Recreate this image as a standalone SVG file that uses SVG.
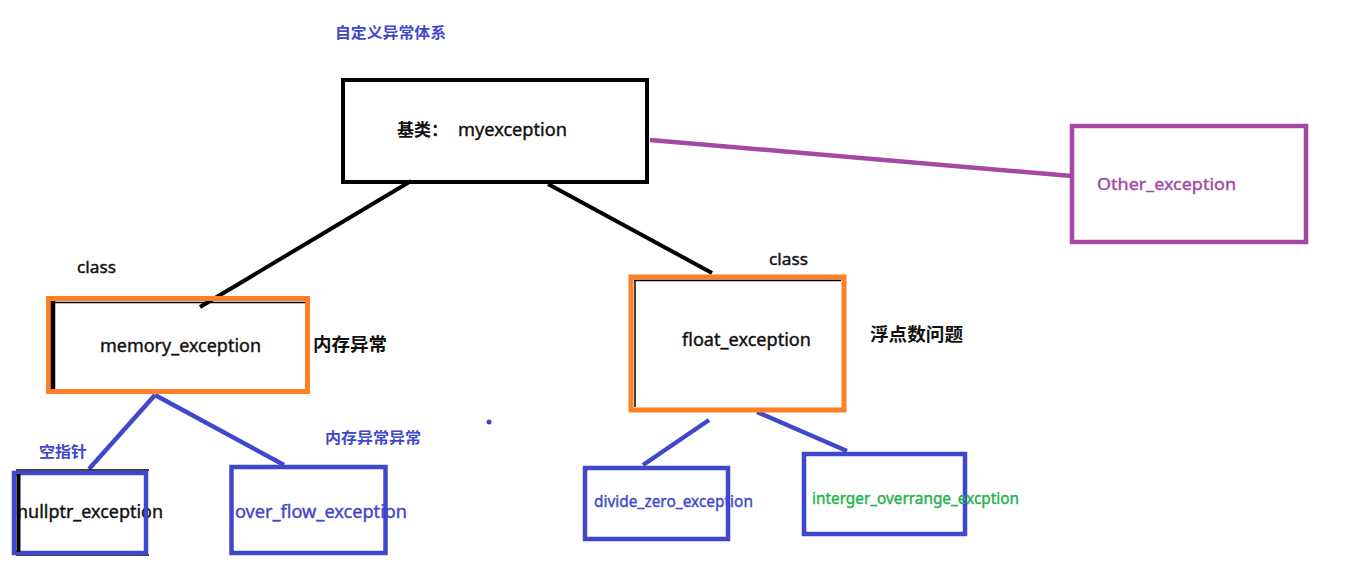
<svg xmlns="http://www.w3.org/2000/svg" width="1369" height="568" viewBox="0 0 1369 568">
<style>
  text { font-family: "Noto Sans", "Noto Sans CJK SC", sans-serif; }
  .cn { font-family: "Noto Sans CJK SC", sans-serif; font-weight: bold; }
  .lat { stroke-width: 0.4; }
  .lbl { font-size: 18px; fill: #111; stroke: #111; }
  .blue { fill: #3F48CC; }
  .box { fill: none; }
  .k { stroke: #000; stroke-width: 4; }
  .or { stroke: #FF7F27; stroke-width: 5; }
  .bl { stroke: #3F48CC; stroke-width: 4.5; }
  .pu { stroke: #A349A4; stroke-width: 4.5; }
  .ln { fill: none; stroke-linecap: butt; }
</style>
<rect width="1369" height="568" fill="#fff"/>

<text class="cn blue" x="335" y="38" font-size="15" textLength="111" lengthAdjust="spacingAndGlyphs">自定义异常体系</text>

<g id="connectors">
  <line class="ln k" x1="411" y1="181" x2="200" y2="307"/>
  <line class="ln k" x1="548" y1="184" x2="712" y2="273"/>
  <line class="ln pu" x1="650" y1="140" x2="1072" y2="176"/>
  <line class="ln bl" x1="155" y1="395" x2="89" y2="469"/>
  <line class="ln bl" x1="155" y1="395" x2="284" y2="465"/>
  <line class="ln bl" x1="709" y1="420" x2="643" y2="465"/>
  <line class="ln bl" x1="757" y1="412" x2="847" y2="451"/>
</g>

<g id="myexception">
  <rect class="box k" x="343" y="80" width="304" height="102"/>
  <text class="cn" x="397" y="136" font-size="17" fill="#111">基类：</text>
  <text class="lbl lat" x="458" y="136" textLength="109" lengthAdjust="spacingAndGlyphs">myexception</text>
</g>

<g id="other_exception">
  <rect class="box pu" x="1072" y="126" width="234" height="116"/>
  <text class="lat" x="1097" y="190" font-size="17" fill="#A349A4" stroke="#A349A4" textLength="139" lengthAdjust="spacingAndGlyphs">Other_exception</text>
</g>

<g id="memory_exception">
  <rect class="box or" x="48.5" y="298.5" width="259" height="93"/>
  <line x1="53" y1="301" x2="53" y2="389" stroke="#000" stroke-width="4.5"/>
  <line x1="55" y1="302.5" x2="305" y2="302.5" stroke="#000" stroke-width="1.5"/>
  <text class="lbl lat" x="100" y="352" textLength="161" lengthAdjust="spacingAndGlyphs">memory_exception</text>
  <text class="lat" x="77" y="273" font-size="16" fill="#111" stroke="#111" textLength="39" lengthAdjust="spacingAndGlyphs">class</text>
  <text class="cn" x="313" y="351" font-size="18" fill="#111" textLength="74" lengthAdjust="spacingAndGlyphs">内存异常</text>
</g>

<g id="float_exception">
  <rect class="box or" x="631" y="277" width="213" height="133" stroke-width="6"/>
  <line x1="635" y1="280" x2="635" y2="407" stroke="#000" stroke-width="1.5"/>
  <line x1="634" y1="280.5" x2="841" y2="280.5" stroke="#000" stroke-width="1.5"/>
  <text class="lbl lat" x="682" y="346" textLength="129" lengthAdjust="spacingAndGlyphs">float_exception</text>
  <text class="lat" x="769" y="265" font-size="16" fill="#111" stroke="#111" textLength="39" lengthAdjust="spacingAndGlyphs">class</text>
  <text class="cn" x="870" y="341" font-size="18" fill="#111" textLength="93" lengthAdjust="spacingAndGlyphs">浮点数问题</text>
</g>

<g id="nullptr_exception">
  <line x1="16" y1="470" x2="149" y2="470" stroke="#000" stroke-width="1.5"/>
  <line x1="16" y1="555" x2="149" y2="555" stroke="#000" stroke-width="1.5"/>
  <text class="lbl lat" x="17" y="518" textLength="146" lengthAdjust="spacingAndGlyphs">nullptr_exception</text>
  <rect class="box bl" x="14" y="473" width="132" height="80"/>
  <line x1="18.5" y1="474" x2="18.5" y2="552" stroke="#000" stroke-width="4"/>
  <text class="cn blue" x="39" y="457" font-size="15" textLength="48" lengthAdjust="spacingAndGlyphs">空指针</text>
</g>

<g id="over_flow_exception">
  <rect class="box bl" x="231.5" y="467" width="154" height="86"/>
  <text x="235" y="518" font-size="18" class="blue lat" stroke="#3F48CC" textLength="172" lengthAdjust="spacingAndGlyphs">over_flow_exception</text>
  <text class="cn blue" x="325" y="443" font-size="15" textLength="96" lengthAdjust="spacingAndGlyphs">内存异常异常</text>
</g>

<circle cx="489" cy="422" r="2.5" fill="#3F48CC"/>

<g id="divide_zero_exception">
  <rect class="box bl" x="585" y="468" width="143" height="71"/>
  <text x="594" y="507" font-size="16" class="blue lat" stroke="#3F48CC" textLength="159" lengthAdjust="spacingAndGlyphs">divide_zero_exception</text>
</g>

<g id="interger_overrange_excption">
  <rect class="box bl" x="804" y="454" width="161" height="80"/>
  <text x="812" y="504" font-size="16" fill="#22B14C" stroke="#22B14C" class="lat" textLength="207" lengthAdjust="spacingAndGlyphs">interger_overrange_excption</text>
</g>
</svg>
